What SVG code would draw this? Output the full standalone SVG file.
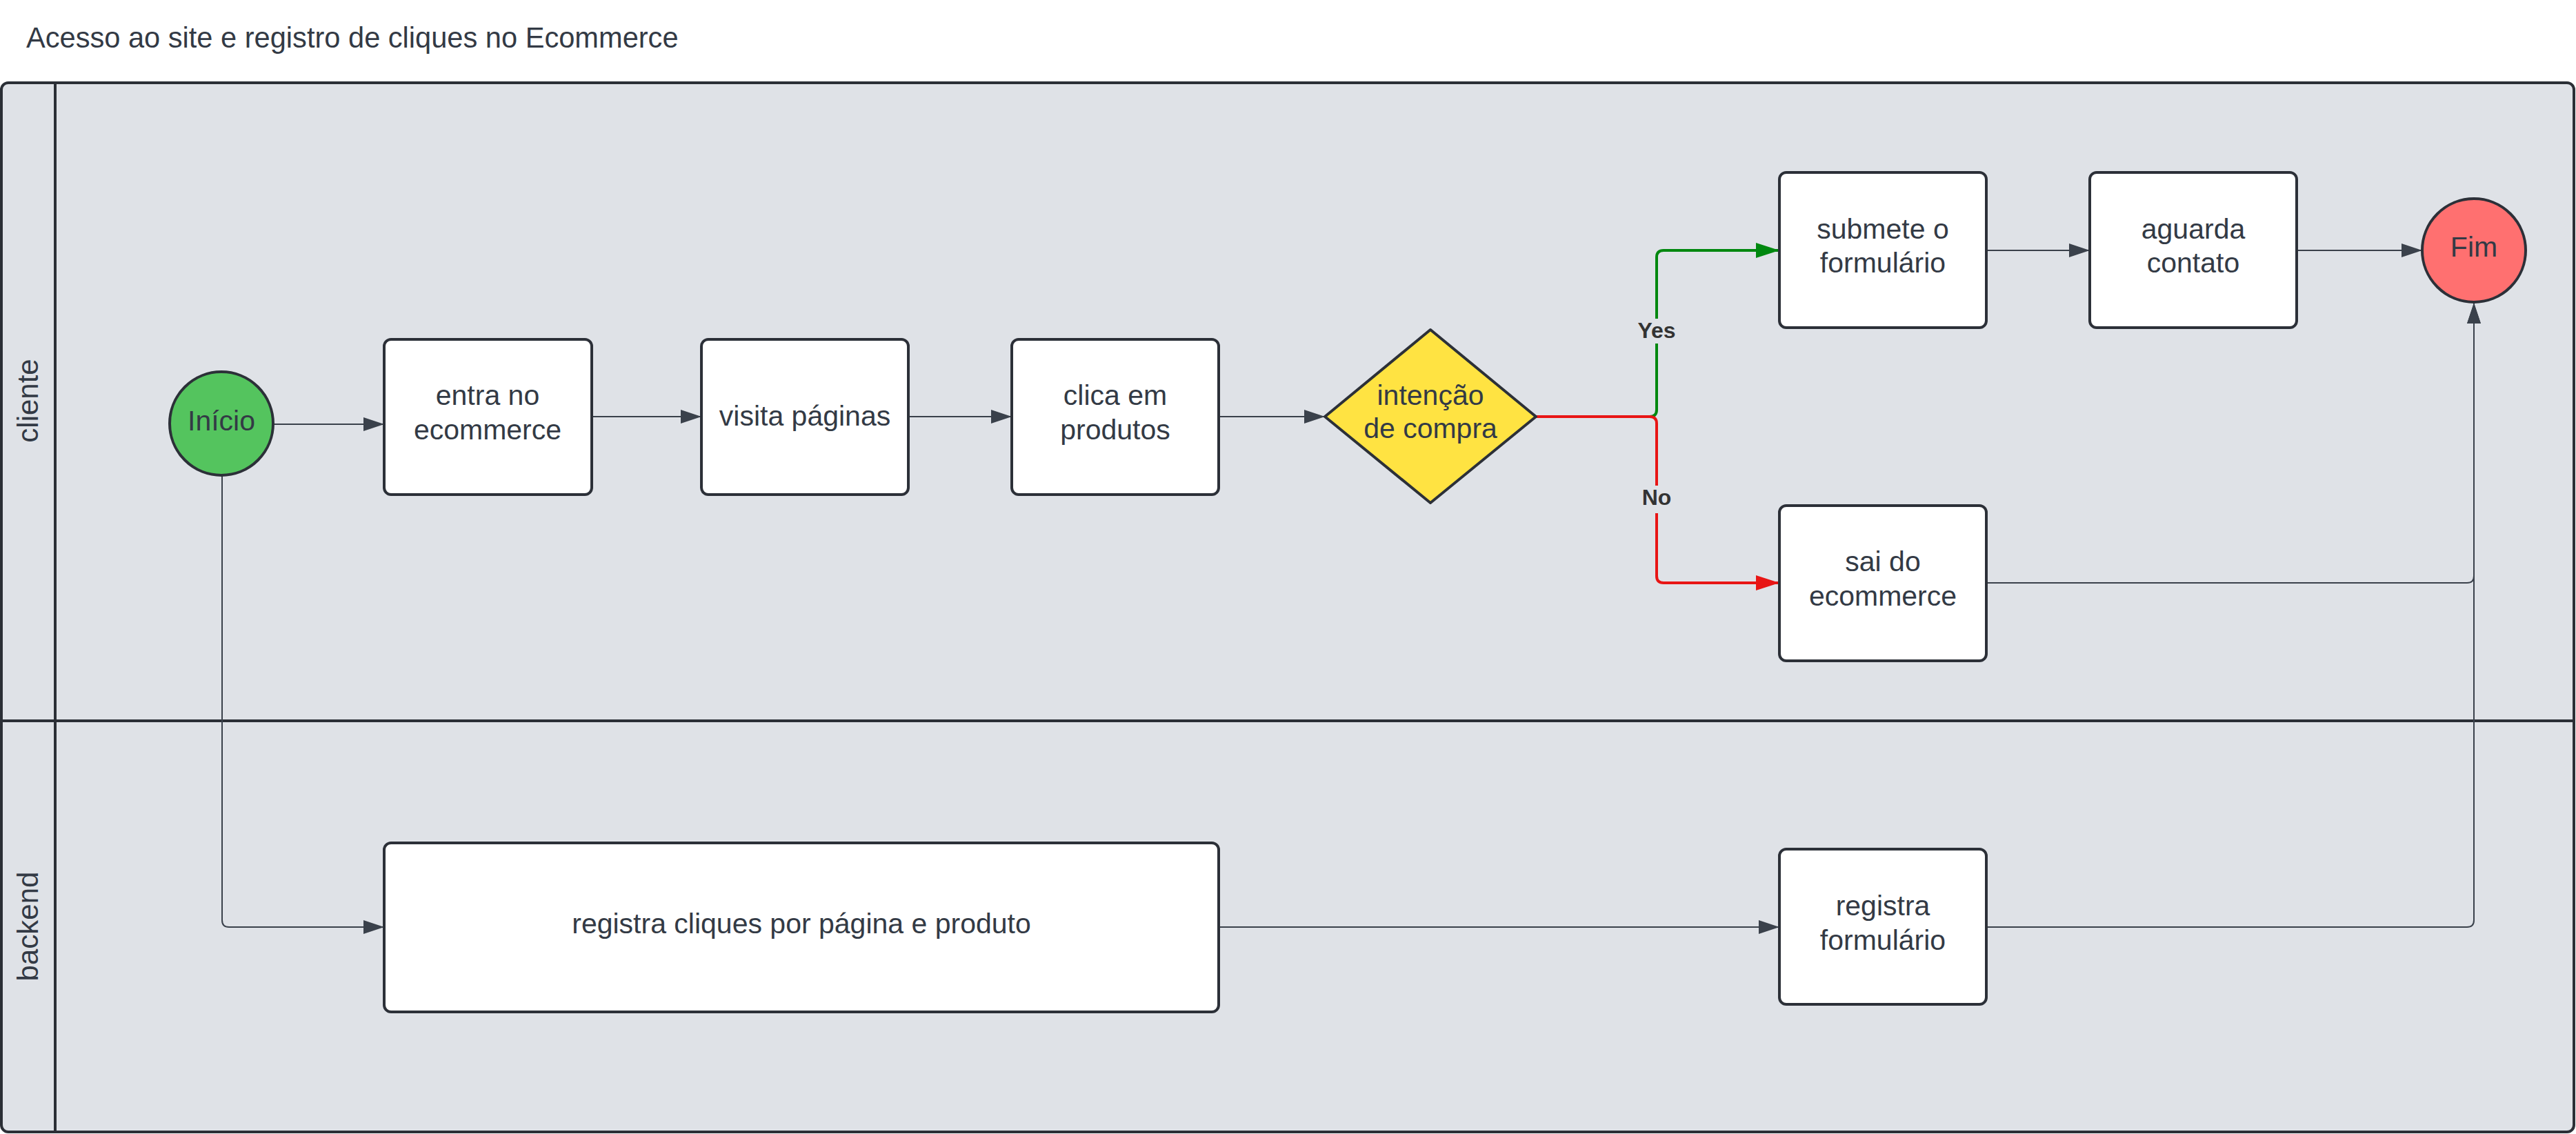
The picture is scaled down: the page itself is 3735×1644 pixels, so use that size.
<svg xmlns="http://www.w3.org/2000/svg" width="3735" height="1644" viewBox="0 0 3735 1644">
<style>
text{font-family:"Liberation Sans",Arial,sans-serif;fill:#333a45}
.t{font-size:41px;text-anchor:middle}
.lane{font-size:42px;text-anchor:middle}
.lbl{font-size:32px;font-weight:bold;text-anchor:middle;fill:#333}
.box{fill:#fff;stroke:#2c3038;stroke-width:4}
.c{fill:none;stroke:#3a414b;stroke-width:2}
</style>
<defs>
<marker id="ad" markerUnits="userSpaceOnUse" markerWidth="30" markerHeight="20" refX="30" refY="10" orient="auto"><path d="M0,0 L30,10 L0,20 z" fill="#3a414b"/></marker>
<marker id="ag" markerUnits="userSpaceOnUse" markerWidth="34" markerHeight="22" refX="34" refY="11" orient="auto"><path d="M0,0 L34,11 L0,22 z" fill="#00880f"/></marker>
<marker id="ar" markerUnits="userSpaceOnUse" markerWidth="34" markerHeight="22" refX="34" refY="11" orient="auto"><path d="M0,0 L34,11 L0,22 z" fill="#e81515"/></marker>
</defs>
<rect width="3735" height="1644" fill="#fff"/>
<text x="38" y="69" style="font-size:41.6px">Acesso ao site e registro de cliques no Ecommerce</text>
<g id="pool">
<rect x="2" y="120" width="3730" height="1521" rx="10" fill="#dfe2e7" stroke="#2b2f36" stroke-width="4"/>
<line x1="80" y1="120" x2="80" y2="1642" stroke="#2b2f36" stroke-width="4"/>
<line x1="2" y1="1045" x2="3732" y2="1045" stroke="#2b2f36" stroke-width="4"/>
<text class="lane" transform="translate(55,581) rotate(-90)">cliente</text>
<text class="lane" transform="translate(55,1343) rotate(-90)">backend</text>
</g>
<g id="connectors">
<path class="c" d="M397,615 H557" marker-end="url(#ad)"/>
<path class="c" d="M858,604 H1017" marker-end="url(#ad)"/>
<path class="c" d="M1317,604 H1467" marker-end="url(#ad)"/>
<path class="c" d="M1767,604 H1921" marker-end="url(#ad)"/>
<path d="M2227,604 H2392 Q2402,604 2402,594 V373 Q2402,363 2412,363 H2580" fill="none" stroke="#00880f" stroke-width="4" marker-end="url(#ag)"/>
<path d="M2227,604 H2392 Q2402,604 2402,614 V835 Q2402,845 2412,845 H2580" fill="none" stroke="#e81515" stroke-width="4" marker-end="url(#ar)"/>
<path class="c" d="M2880,363 H3030" marker-end="url(#ad)"/>
<path class="c" d="M3330,363 H3512" marker-end="url(#ad)"/>
<path class="c" d="M2880,845 H3577 Q3587,845 3587,835 V439" marker-end="url(#ad)"/>
<path class="c" d="M322,690 V1334 Q322,1344 332,1344 H557" marker-end="url(#ad)"/>
<path class="c" d="M1767,1344 H2580" marker-end="url(#ad)"/>
<path class="c" d="M2880,1344 H3577 Q3587,1344 3587,1334 V439" marker-end="url(#ad)"/>
<rect x="2370" y="462" width="64" height="36" fill="#dfe2e7"/>
<text class="lbl" x="2402" y="490">Yes</text>
<rect x="2378" y="704" width="48" height="40" fill="#dfe2e7"/>
<text class="lbl" x="2402" y="732">No</text>
</g>
<g id="inicio">
<circle cx="321" cy="614" r="75" fill="#54c45e" stroke="#2c3038" stroke-width="4"/>
<text class="t" x="321" y="624">Início</text>
</g>
<g id="entra">
<rect class="box" x="557" y="492" width="301" height="225" rx="10"/>
<text class="t" x="707" y="587">entra no</text>
<text class="t" x="707" y="637">ecommerce</text>
</g>
<g id="visita">
<rect class="box" x="1017" y="492" width="300" height="225" rx="10"/>
<text class="t" x="1167" y="617">visita páginas</text>
</g>
<g id="clica">
<rect class="box" x="1467" y="492" width="300" height="225" rx="10"/>
<text class="t" x="1617" y="587">clica em</text>
<text class="t" x="1617" y="637">produtos</text>
</g>
<g id="intencao">
<path d="M2074,478 L2227,604 L2074,729 L1921,604 Z" fill="#ffe342" stroke="#2c3038" stroke-width="4" stroke-linejoin="round"/>
<text class="t" x="2074" y="587">intenção</text>
<text class="t" x="2074" y="635">de compra</text>
</g>
<g id="submete">
<rect class="box" x="2580" y="250" width="300" height="225" rx="10"/>
<text class="t" x="2730" y="346">submete o</text>
<text class="t" x="2730" y="395">formulário</text>
</g>
<g id="aguarda">
<rect class="box" x="3030" y="250" width="300" height="225" rx="10"/>
<text class="t" x="3180" y="346">aguarda</text>
<text class="t" x="3180" y="395">contato</text>
</g>
<g id="fim">
<circle cx="3587" cy="363" r="75" fill="#ff7070" stroke="#2c3038" stroke-width="4"/>
<text class="t" x="3587" y="372">Fim</text>
</g>
<g id="sai">
<rect class="box" x="2580" y="733" width="300" height="225" rx="10"/>
<text class="t" x="2730" y="828">sai do</text>
<text class="t" x="2730" y="878">ecommerce</text>
</g>
<g id="registra-cliques">
<rect class="box" x="557" y="1222" width="1210" height="245" rx="10"/>
<text class="t" x="1162" y="1353">registra cliques por página e produto</text>
</g>
<g id="registra-formulario">
<rect class="box" x="2580" y="1231" width="300" height="225" rx="10"/>
<text class="t" x="2730" y="1327">registra</text>
<text class="t" x="2730" y="1377">formulário</text>
</g>
</svg>
